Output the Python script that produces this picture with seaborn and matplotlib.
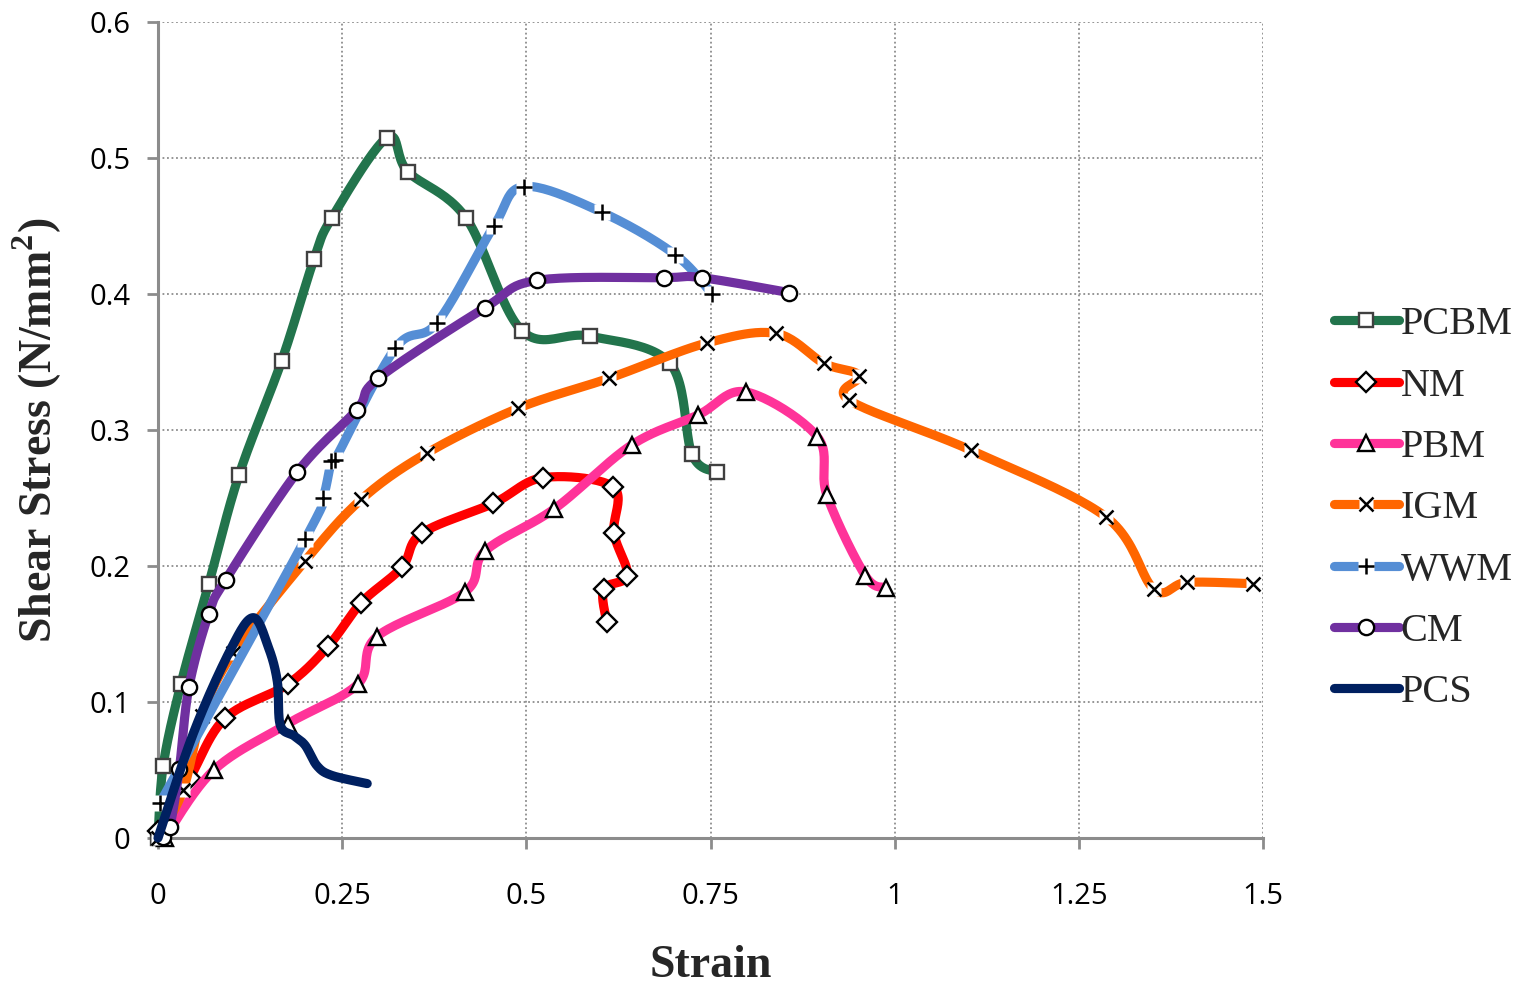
import numpy as np
import matplotlib
matplotlib.use("Agg")
import matplotlib.pyplot as plt
from matplotlib.lines import Line2D
from matplotlib.legend_handler import HandlerTuple
import seaborn as sns

# data (strain, shear stress)
pcbm_x = [0.0, 0.007, 0.031, 0.069, 0.110, 0.168, 0.212, 0.236, 0.311, 0.339, 0.418, 0.494, 0.586, 0.695, 0.725, 0.759]
pcbm_y = [0.0, 0.053, 0.113, 0.187, 0.267, 0.351, 0.426, 0.456, 0.515, 0.490, 0.456, 0.373, 0.369, 0.349, 0.282, 0.269]

nm_x = [0.0, 0.043, 0.091, 0.176, 0.231, 0.276, 0.331, 0.358, 0.455, 0.523, 0.618, 0.619, 0.637, 0.605, 0.609]
nm_y = [0.005, 0.044, 0.088, 0.113, 0.141, 0.173, 0.199, 0.224, 0.246, 0.265, 0.258, 0.224, 0.193, 0.183, 0.159]

pbm_x = [0.009, 0.076, 0.176, 0.271, 0.297, 0.417, 0.444, 0.538, 0.643, 0.733, 0.798, 0.895, 0.908, 0.960, 0.988]
pbm_y = [0.0, 0.050, 0.084, 0.113, 0.148, 0.181, 0.211, 0.242, 0.289, 0.311, 0.328, 0.295, 0.252, 0.193, 0.184]

igm_x = [0.0, 0.034, 0.060, 0.102, 0.200, 0.276, 0.365, 0.489, 0.612, 0.745, 0.839, 0.904, 0.952, 0.938, 1.104, 1.287, 1.352, 1.397, 1.486]
igm_y = [0.0, 0.035, 0.090, 0.136, 0.204, 0.249, 0.283, 0.316, 0.338, 0.364, 0.371, 0.349, 0.340, 0.322, 0.285, 0.236, 0.183, 0.188, 0.187]

wwm_x = [0.003, 0.200, 0.224, 0.235, 0.240, 0.322, 0.379, 0.456, 0.497, 0.603, 0.702, 0.752]
wwm_y = [0.026, 0.220, 0.250, 0.277, 0.278, 0.360, 0.379, 0.450, 0.479, 0.460, 0.429, 0.400]

cm_x = [0.007, 0.016, 0.029, 0.042, 0.069, 0.092, 0.189, 0.270, 0.299, 0.444, 0.514, 0.687, 0.738, 0.857]
cm_y = [0.001, 0.008, 0.051, 0.111, 0.165, 0.190, 0.269, 0.315, 0.338, 0.390, 0.410, 0.412, 0.412, 0.401]

pcs_x = [0.0, 0.048, 0.098, 0.129, 0.150, 0.162, 0.166, 0.185, 0.200, 0.216, 0.236, 0.284]
pcs_y = [0.0, 0.077, 0.138, 0.162, 0.140, 0.115, 0.083, 0.075, 0.068, 0.053, 0.046, 0.040]

x_ticks = [0, 0.25, 0.5, 0.75, 1, 1.25, 1.5]
x_tick_labels = ["0", "0.25", "0.5", "0.75", "1", "1.25", "1.5"]
y_ticks = [0, 0.1, 0.2, 0.3, 0.4, 0.5, 0.6]
y_tick_labels = ["0", "0.1", "0.2", "0.3", "0.4", "0.5", "0.6"]

series = [
    ("PCBM", pcbm_x, pcbm_y, "#22744C", "s"),
    ("NM", nm_x, nm_y, "#FF0000", "D"),
    ("PBM", pbm_x, pbm_y, "#FF3399", "^"),
    ("IGM", igm_x, igm_y, "#FF6600", "x"),
    ("WWM", wwm_x, wwm_y, "#558ED5", "+"),
    ("CM", cm_x, cm_y, "#7030A0", "o"),
    ("PCS", pcs_x, pcs_y, "#002060", None),
]


def smooth(xs, ys, n=24):
    """Uniform Catmull-Rom curve through the points (like Excel's smoothed line)."""
    p = np.column_stack([xs, ys])
    p = np.vstack([p[0], p, p[-1]])
    t = np.linspace(0, 1, n, endpoint=False)[:, None]
    out = []
    for i in range(1, len(p) - 2):
        p0, p1, p2, p3 = p[i - 1], p[i], p[i + 1], p[i + 2]
        seg = 0.5 * (2 * p1 + (-p0 + p2) * t + (2 * p0 - 5 * p1 + 4 * p2 - p3) * t ** 2
                     + (-p0 + 3 * p1 - 3 * p2 + p3) * t ** 3)
        out.append(seg)
    out.append(p[-2][None])
    c = np.vstack(out)
    return c[:, 0], c[:, 1]


sns.set_style("white")
plt.rcParams["font.family"] = ["Open Sans", "DejaVu Sans"]

fig = plt.figure(figsize=(15.14, 9.84), dpi=100)
ax = fig.add_axes([158 / 1514, 1 - 838 / 984, (1263 - 158) / 1514, (838 - 22) / 984])

lw = 6.6
msize = {"s": 10.5, "D": 10, "^": 12, "x": 10, "+": 12, "o": 11}
handles = []
for k, (name, xs, ys, color, mk) in enumerate(series):
    sx, sy = smooth(xs, ys)
    sns.lineplot(x=sx, y=sy, sort=False, estimator=None, color=color, linewidth=lw,
                 ax=ax, zorder=3 + k, solid_capstyle="round", clip_on=False)
    line_h = Line2D([], [], color=color, lw=lw, solid_capstyle="round")
    if mk is None:
        handles.append(line_h)
        continue
    if mk in ("x", "+"):
        # white patch behind the cross, as in the original
        ax.plot(xs, ys, ls="none", marker="s", ms=msize[mk], mfc="white", mec="none",
                zorder=3.3 + k, clip_on=False)
        ax.plot(xs, ys, ls="none", marker=mk, ms=msize[mk], mec="black", mew=1.8,
                zorder=3.6 + k, clip_on=False)
        bg = Line2D([], [], ls="none", marker="s", ms=msize[mk], mfc="white", mec="none")
        fg = Line2D([], [], ls="none", marker=mk, ms=msize[mk], mec="black", mew=1.8)
        handles.append((line_h, bg, fg))
    else:
        edge = "#404040" if mk == "s" else "black"
        ax.plot(xs, ys, ls="none", marker=mk, ms=msize[mk], mfc="white", mec=edge, mew=1.7,
                zorder=3.6 + k, clip_on=False)
        fg = Line2D([], [], ls="none", marker=mk, ms=msize[mk], mfc="white", mec=edge, mew=1.7)
        handles.append((line_h, fg))

ax.set_xlim(0, 1.5)
ax.set_ylim(0, 0.6)
ax.set_xticks(x_ticks)
ax.set_xticklabels(x_tick_labels)
ax.set_yticks(y_ticks)
ax.set_yticklabels(y_tick_labels)
ax.grid(True, color="#8c8c8c", linestyle=(0, (1, 1.5)), linewidth=1.3, zorder=0)
ax.set_axisbelow(True)

for side in ["top", "right"]:
    ax.spines[side].set_visible(False)
for side in ["left", "bottom"]:
    ax.spines[side].set_color("#8c8c8c")
    ax.spines[side].set_linewidth(2.2)
    ax.spines[side].set_zorder(2)

ax.tick_params(axis="both", direction="out", length=8, width=2, color="#8c8c8c",
               labelsize=21, labelcolor="black")
ax.tick_params(axis="x", pad=24)
ax.tick_params(axis="y", pad=12)
ax.xaxis.set_ticks_position("bottom")
ax.yaxis.set_ticks_position("left")

ax.set_xlabel("Strain", fontsize=33, fontweight="bold", family="Liberation Serif", labelpad=24)
ax.set_ylabel("Shear Stress (N/mm$^\\mathregular{2}$)", fontsize=33, fontweight="bold",
              family="Liberation Serif", labelpad=18)

labels = [s[0] for s in series]
fig.legend(handles, labels, loc="upper left", bbox_to_anchor=(1318 / 1514, 1 - 290 / 984),
           frameon=False, handler_map={tuple: HandlerTuple(ndivide=1)},
           prop={"family": "Liberation Serif", "size": 29}, handlelength=1.6,
           handletextpad=0.05, labelspacing=0.6, borderaxespad=0)

fig.savefig("out.png", dpi=100)
